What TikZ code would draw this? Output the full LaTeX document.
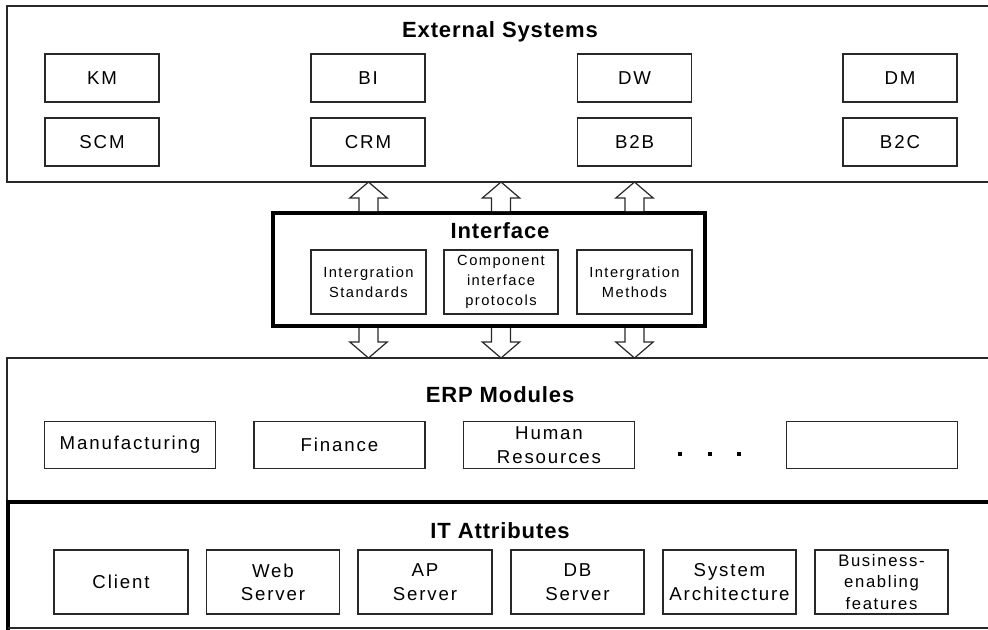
\documentclass[tikz,border=0pt]{standalone}
\usepackage{fontspec}
\setmainfont{Liberation Sans}[LetterSpace=10]
\newfontfamily\titlefont{Liberation Sans}[LetterSpace=4]
\usepackage{tikz}
\usetikzlibrary{calc}
\definecolor{edgegray}{RGB}{40, 40, 40}

\newdimen\px \px=0.75pt

\tikzset{
    panel/.style={draw=edgegray, line width=1.1pt},
    heavypanel/.style={draw=black, line width=3pt},
    title/.style={font=\titlefont\fontsize{16.5}{20}\selectfont\bfseries, anchor=base, inner sep=0pt},
    module/.style={draw=edgegray, line width=1pt, fill=white, align=center, inner sep=0pt,
                   font=\fontsize{14}{17.5}\selectfont},
    protocol/.style={module, font=\fontsize{11}{15}\selectfont},
    blockarrow/.style={draw=edgegray, line width=0.9pt, fill=white}
}

% hollow block arrow from #1 (base) to #2 (tip)
\newcommand{\hollowarrow}[2]{%
    \draw[blockarrow] let \p1=(#1), \p2=(#2), \n1={sign(\y2-\y1)} in
        ({\x1-7.1pt},\y1) -- ({\x1-7.1pt},{\y2-\n1*12pt}) -- ({\x1-14pt},{\y2-\n1*12pt})
        -- (\x1,\y2) -- ({\x1+14pt},{\y2-\n1*12pt}) -- ({\x1+7.1pt},{\y2-\n1*12pt})
        -- ({\x1+7.1pt},\y1);}

\begin{document}
\begin{tikzpicture}[x=0.75pt, y=-0.75pt]
    \useasboundingbox (0,0) rectangle (988,629);

    % external systems
    \draw[panel] (988,6) -- (7,6) -- (7,182) -- (988,182);
    \coordinate (extbottom) at (7,182);
    \node[title] (exttitle) at (500,37) {External Systems};
    \node[module, minimum width=114\px, minimum height=48\px] (km)  at (102,78)    {KM};
    \node[module, minimum width=114\px, minimum height=48\px] (bi)  at (368,78)    {BI};
    \node[module, minimum width=114\px, minimum height=48\px] (dw)  at (634.5,78)  {DW};
    \node[module, minimum width=114\px, minimum height=48\px] (dm)  at (900,78)    {DM};
    \node[module, minimum width=114\px, minimum height=48\px] (scm) at (102,142)   {SCM};
    \node[module, minimum width=114\px, minimum height=48\px] (crm) at (368,142)   {CRM};
    \node[module, minimum width=114\px, minimum height=48\px] (btob) at (634.5,142) {B2B};
    \node[module, minimum width=114\px, minimum height=48\px] (btoc) at (900,142)  {B2C};

    % interface
    \node[heavypanel, minimum width=432\px, minimum height=113\px, inner sep=0pt] (iface) at (489,269.5) {};
    \node[title] (ifacetitle) at (500,238) {Interface};
    \node[protocol, minimum width=115\px, minimum height=64\px] (stds)  at (368.5,282) {Intergration\\Standards};
    \node[protocol, minimum width=114\px, minimum height=64\px] (comp)  at (501,282)   {Component\\interface\\protocols};
    \node[protocol, minimum width=115\px, minimum height=64\px] (meths) at (634.5,282) {Intergration\\Methods};

    % erp modules
    \draw[panel] (988,358) -- (7,358) -- (7,502);
    \coordinate (erptop) at (7,358);
    \node[title] (erptitle) at (500,402) {ERP Modules};
    \node[module, minimum width=171\px, minimum height=47\px] (manu) at (130,445)   {Manufacturing};
    \node[module, minimum width=171\px, minimum height=47\px] (fin)  at (339.5,445) {Finance};
    \node[module, minimum width=171\px, minimum height=47\px] (hr)   at (549,445)   {Human\\Resources};
    \node[module, minimum width=171\px, minimum height=47\px] (more) at (872,445)   {};
    \foreach \dx in {680,709.5,739}
        \fill (\dx-2,452) rectangle (\dx+2,456);

    % it attributes
    \draw[heavypanel] (988,502) -- (8,502) -- (8,629.5);
    \draw[panel] (8,628) -- (988,628);
    \node[title] (ittitle) at (500,538) {IT Attributes};
    \node[module, minimum width=134\px, minimum height=64\px] (client) at (121,582)   {Client};
    \node[module, minimum width=133\px, minimum height=64\px] (web)    at (273,582)   {Web\\Server};
    \node[module, minimum width=134\px, minimum height=64\px] (ap)     at (425,582)   {AP\\Server};
    \node[module, minimum width=133\px, minimum height=64\px] (db)     at (577.5,582) {DB\\Server};
    \node[module, minimum width=133\px, minimum height=64\px] (arch)   at (729.5,582) {System\\Architecture};
    \node[module, minimum width=133\px, minimum height=64\px, font=\fontsize{12.5}{16}\selectfont]
        (feat) at (881.5,582) {Business-\\enabling\\features};

    % arrows between layers
    \hollowarrow{stds.center |- iface.north}{stds.center |- extbottom}
    \hollowarrow{comp.center |- iface.north}{comp.center |- extbottom}
    \hollowarrow{meths.center |- iface.north}{meths.center |- extbottom}
    \hollowarrow{stds.center |- iface.south}{stds.center |- erptop}
    \hollowarrow{comp.center |- iface.south}{comp.center |- erptop}
    \hollowarrow{meths.center |- iface.south}{meths.center |- erptop}
\end{tikzpicture}
\end{document}
